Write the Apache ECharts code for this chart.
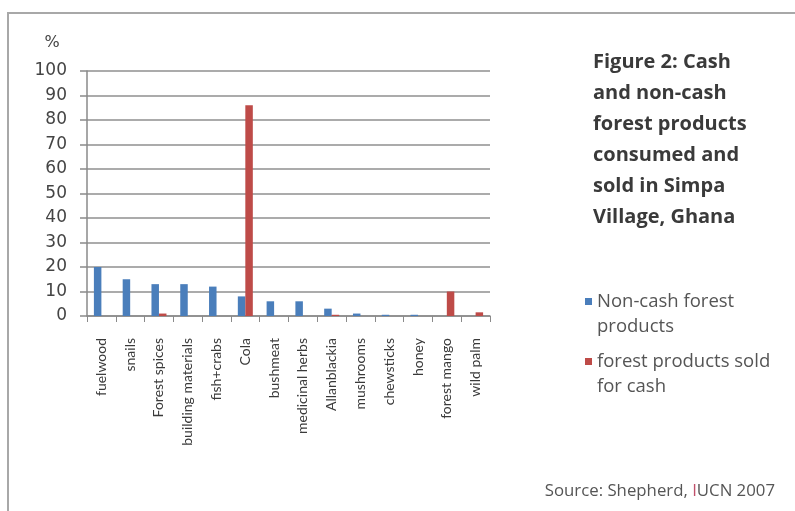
<!DOCTYPE html>
<html>
<head>
<meta charset="utf-8">
<script src="https://cdn.jsdelivr.net/npm/echarts@6/dist/echarts.min.js"></script>
<style>
html,body{margin:0;padding:0;background:#fff;}
#chart{width:795px;height:511px;}
</style>
</head>
<body>
<div id="chart"></div>
<script>
var categories = ['fuelwood','snails','Forest spices','building materials','fish+crabs','Cola','bushmeat','medicinal herbs','Allanblackia','mushrooms','chewsticks','honey','forest mango','wild palm'];
var nonCash = [20, 15, 13, 13, 12, 8, 6, 6, 3, 1, 0.5, 0.5, 0, 0];
var soldCash = [0, 0, 1, 0, 0, 86, 0, 0, 0.5, 0, 0, 0, 10, 1.5];
var seriesNames = ['Non-cash forest products', 'forest products sold for cash'];
var legendLabels = ['Non-cash forest\nproducts', 'forest products sold\nfor cash'];
var yTicks = [0,10,20,30,40,50,60,70,80,90,100];
var titleText = 'Figure 2: Cash\nand non-cash\nforest products\nconsumed and\nsold in Simpa\nVillage, Ghana';

var chart = echarts.init(document.getElementById('chart'), null, {renderer:'canvas'});
var font = 'Lato, "Open Sans", sans-serif';
var font2 = '"Open Sans", Lato, sans-serif';
var font3 = '"DejaVu Sans", "Open Sans", sans-serif';
var iconPath = 'path://M0,9h7v7h-7z M0,0h0.01 M0,50h0.01';
var option = {
  backgroundColor: '#ffffff',
  animation: false,
  textStyle: {fontFamily: font},
  title: {
    text: titleText,
    left: 593, top: 47, padding: 0,
    textStyle: {fontFamily: font2, fontSize: 20, fontWeight: 'bold', lineHeight: 31, color: '#3a3a3a'}
  },
  legend: {
    orient: 'vertical',
    left: 585, top: 289, padding: 0,
    itemGap: 10,
    itemWidth: 7, itemHeight: 50,
    data: seriesNames.map(function(n){ return {name: n, icon: iconPath}; }),
    formatter: function(name){ return legendLabels[seriesNames.indexOf(name)]; },
    textStyle: {fontFamily: font2, fontSize: 18.5, lineHeight: 25, color: '#555'}
  },
  grid: {left: 87, right: 305, top: 71, bottom: 195, containLabel: false},
  xAxis: {
    type: 'category',
    data: categories,
    axisLine: {lineStyle: {color: '#8a8a8a', width: 1.5}},
    axisTick: {show: true, length: 6, lineStyle: {color: '#8a8a8a'}},
    axisLabel: {rotate: 90, interval: 0, margin: 22, fontSize: 14, color: '#3a3a3a', fontFamily: font},
    splitLine: {show: false}
  },
  yAxis: {
    type: 'value',
    min: 0, max: 100, interval: 10,
    name: '%',
    nameLocation: 'end',
    nameGap: 20,
    nameTextStyle: {fontSize: 16, color: '#444', align: 'center', padding: [0, 70, 0, 0], fontFamily: font3},
    axisLine: {show: true, lineStyle: {color: '#8a8a8a', width: 1.5}},
    axisTick: {show: true, length: 7, lineStyle: {color: '#8a8a8a', width: 1.5}},
    axisLabel: {margin: 20, fontSize: 17, color: '#444', fontFamily: font3,
      formatter: function(v){ return yTicks.indexOf(v) >= 0 ? String(v) : ''; }},
    splitLine: {show: true, lineStyle: {color: '#8f8f8f', width: 1.5}}
  },
  series: [
    {name: seriesNames[0], type: 'bar', data: nonCash, barWidth: 7.5, barGap: '0%',
     itemStyle: {color: '#4a7ebb'}},
    {name: seriesNames[1], type: 'bar', data: soldCash, barWidth: 7.5, barGap: '0%',
     itemStyle: {color: '#be4b48'}}
  ],
  graphic: [
    {type: 'polyline', silent: true, shape: {points: [[8, 511], [8, 13], [795, 13]]},
     style: {stroke: '#a8a8a8', lineWidth: 2, fill: null}},
    {type: 'text', right: 20, top: 483, silent: true,
     style: {text: '{g|Source: Shepherd, }{r|I}{g|UCN 2007}', font: '16.8px ' + font2,
       rich: {g: {fill: '#555', fontSize: 16.8, fontFamily: font2}, r: {fill: '#c0506a', fontSize: 16.8, fontFamily: font2}}}}
  ]
};
chart.setOption(option);
</script>
</body>
</html>
